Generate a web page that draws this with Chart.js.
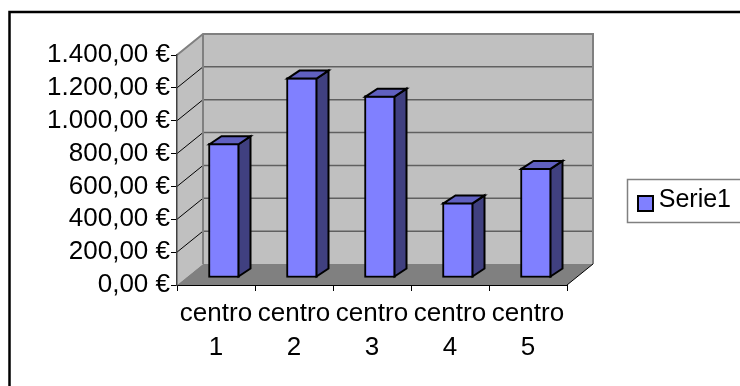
<!DOCTYPE html>
<html>
<head>
<meta charset="utf-8">
<title>Serie1</title>
<style>
    html, body { margin: 0; padding: 0; background: #fff; }
    canvas { display: block; }
</style>
<script src="https://cdn.jsdelivr.net/npm/chart.js@4"></script>
</head>
<body>
<canvas id="centriChart" width="740" height="386"></canvas>
<script>
// Chart data
const categories = [['centro', '1'], ['centro', '2'], ['centro', '3'], ['centro', '4'], ['centro', '5']];
const seriesName = 'Serie1';
const seriesValues = [820, 1220, 1110, 460, 670];
const yTickLabels = ['0,00 €', '200,00 €', '400,00 €', '600,00 €', '800,00 €', '1.000,00 €', '1.200,00 €', '1.400,00 €'];

const FONT = 'Liberation Sans, Arial, sans-serif';

// Depth of the fake 3D box and of the bars, in pixels
const wall = { dx: 26, dy: 21 };
const barDepth = { dx: 12, dy: 8 };
const barShift = { x: 8, y: -7 };

// Function to build the legend swatch, which sits a little below the text centre
function makeSwatch() {
    const swatch = document.createElement('canvas');
    swatch.width = 17;
    swatch.height = 23;
    const ctx = swatch.getContext('2d');
    ctx.fillStyle = '#000';
    ctx.fillRect(0, 6, 17, 17);
    ctx.fillStyle = '#8080ff';
    ctx.fillRect(2, 8, 13, 13);
    return swatch;
}

// Function to draw the frame, walls and floor behind the axes
function drawBox(chart) {
    const ctx = chart.ctx;
    const { left, right, top, bottom } = chart.chartArea;
    const yScale = chart.scales.y;

    ctx.save();

    // Outer frame, open on the right and at the bottom
    ctx.strokeStyle = '#000';
    ctx.lineWidth = 2.5;
    ctx.beginPath();
    ctx.moveTo(740, 12);
    ctx.lineTo(9.5, 12);
    ctx.lineTo(9.5, 386);
    ctx.stroke();

    // Back wall
    ctx.fillStyle = '#c0c0c0';
    ctx.fillRect(left + wall.dx, top - wall.dy, right - left, bottom - top);

    // Left wall
    ctx.beginPath();
    ctx.moveTo(left, top);
    ctx.lineTo(left + wall.dx, top - wall.dy);
    ctx.lineTo(left + wall.dx, bottom - wall.dy);
    ctx.lineTo(left, bottom);
    ctx.closePath();
    ctx.fill();

    // Floor
    ctx.fillStyle = '#808080';
    ctx.beginPath();
    ctx.moveTo(left, bottom);
    ctx.lineTo(left + wall.dx, bottom - wall.dy);
    ctx.lineTo(right + wall.dx, bottom - wall.dy);
    ctx.lineTo(right, bottom);
    ctx.closePath();
    ctx.fill();

    // Grid lines on the back wall, and their diagonals on the left wall
    yScale.ticks.forEach((tick, i) => {
        const y = yScale.getPixelForValue(tick.value);
        if (i > 0 && i < yScale.ticks.length - 1) {
            ctx.strokeStyle = '#606060';
            ctx.lineWidth = 1.5;
            ctx.beginPath();
            ctx.moveTo(left + wall.dx, y - wall.dy);
            ctx.lineTo(right + wall.dx, y - wall.dy);
            ctx.stroke();

            ctx.strokeStyle = '#000';
            ctx.lineWidth = 1;
            ctx.beginPath();
            ctx.moveTo(left, y);
            ctx.lineTo(left + wall.dx, y - wall.dy);
            ctx.stroke();
        }
    });

    // Grey outline of the walls
    ctx.strokeStyle = '#808080';
    ctx.lineWidth = 2;
    ctx.beginPath();
    ctx.moveTo(left, top);
    ctx.lineTo(left + wall.dx, top - wall.dy);
    ctx.lineTo(right + wall.dx, top - wall.dy);
    ctx.lineTo(right + wall.dx, bottom - wall.dy);
    ctx.moveTo(left + wall.dx, top - wall.dy);
    ctx.lineTo(left + wall.dx, bottom - wall.dy);
    ctx.stroke();

    // Floor edges
    ctx.strokeStyle = '#000';
    ctx.lineWidth = 1;
    ctx.beginPath();
    ctx.moveTo(right, bottom);
    ctx.lineTo(right + wall.dx, bottom - wall.dy);
    ctx.stroke();

    // Legend frame, cut by the right edge
    ctx.strokeStyle = '#808080';
    ctx.lineWidth = 1.5;
    ctx.beginPath();
    ctx.moveTo(740, 179.5);
    ctx.lineTo(627.5, 179.5);
    ctx.lineTo(627.5, 222.5);
    ctx.lineTo(740, 222.5);
    ctx.stroke();

    ctx.restore();
}

// Plugin for the 3D look: box behind the chart, side and top faces on the bars
const box3d = {
    id: 'box3d',
    beforeLayout(chart) {
        // Keep the legend from taking part in the plot width
        const legend = chart.legend;
        if (!legend.fitWrapped) {
            const fit = legend.fit.bind(legend);
            legend.fit = () => {
                fit();
                legend.width = 173;
            };
            legend.fitWrapped = true;
        }
    },
    afterLayout(chart) {
        const legend = chart.legend;
        legend.left = 627;
        legend.right = 731;
        legend.top = 178;
        legend.bottom = 223;
    },
    beforeDraw(chart) {
        drawBox(chart);
    },
    beforeDatasetDraw(chart) {
        chart.ctx.save();
        chart.ctx.translate(barShift.x, barShift.y);
    },
    afterDatasetDraw(chart, args) {
        const ctx = chart.ctx;
        args.meta.data.forEach(bar => {
            const x0 = bar.x - bar.width / 2;
            const x1 = bar.x + bar.width / 2;
            const yTop = bar.y;
            const yBase = bar.base;

            ctx.strokeStyle = '#000';
            ctx.lineWidth = 2;
            ctx.lineJoin = 'miter';

            // Side face
            ctx.fillStyle = '#404080';
            ctx.beginPath();
            ctx.moveTo(x1 - 1, yTop + 1);
            ctx.lineTo(x1 - 1 + barDepth.dx, yTop + 1 - barDepth.dy);
            ctx.lineTo(x1 - 1 + barDepth.dx, yBase - 1 - barDepth.dy);
            ctx.lineTo(x1 - 1, yBase - 1);
            ctx.closePath();
            ctx.fill();
            ctx.stroke();

            // Top face
            ctx.fillStyle = '#6060c0';
            ctx.beginPath();
            ctx.moveTo(x0 + 1, yTop + 1);
            ctx.lineTo(x0 + 1 + barDepth.dx, yTop + 1 - barDepth.dy);
            ctx.lineTo(x1 - 1 + barDepth.dx, yTop + 1 - barDepth.dy);
            ctx.lineTo(x1 - 1, yTop + 1);
            ctx.closePath();
            ctx.fill();
            ctx.stroke();
        });
        ctx.restore();
    }
};

new Chart(document.getElementById('centriChart').getContext('2d'), {
    type: 'bar',
    data: {
        labels: categories,
        datasets: [{
            label: seriesName,
            data: seriesValues,
            backgroundColor: '#8080ff',
            borderColor: '#000',
            borderWidth: 2,
            borderSkipped: false,
            barThickness: 31,
            clip: false
        }]
    },
    options: {
        responsive: false,
        animation: false,
        layout: { padding: { top: 55 } },
        plugins: {
            tooltip: { enabled: false },
            legend: {
                position: 'right',
                align: 'start',
                labels: {
                    boxWidth: 17,
                    boxHeight: 17,
                    padding: 10,
                    color: '#000',
                    textAlign: 'right',
                    usePointStyle: true,
                    pointStyle: makeSwatch(),
                    font: { size: 25, family: FONT }
                }
            }
        },
        scales: {
            x: {
                afterFit: scale => { scale.height = 101; },
                grid: { drawOnChartArea: false, tickLength: 6, tickColor: '#000' },
                border: { color: '#000', width: 1 },
                ticks: {
                    autoSkip: false,
                    maxRotation: 0,
                    padding: 6,
                    color: '#000',
                    font: { size: 26, family: FONT, lineHeight: 1.3 }
                }
            },
            y: {
                min: 0,
                max: 1400,
                afterFit: scale => { scale.width = 177; },
                grid: { drawOnChartArea: false, tickLength: 6, tickColor: '#000' },
                border: { color: '#404040', width: 1.5 },
                ticks: {
                    stepSize: 200,
                    autoSkip: false,
                    padding: 1,
                    color: '#000',
                    font: { size: 26, family: FONT },
                    callback: (value, index) => yTickLabels[index]
                }
            }
        }
    },
    plugins: [box3d]
});
</script>
</body>
</html>
